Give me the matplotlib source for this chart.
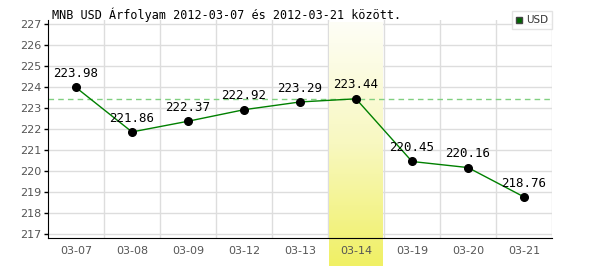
import numpy as np
import matplotlib.pyplot as plt
from matplotlib.colors import LinearSegmentedColormap

# data
dates = ['03-07', '03-08', '03-09', '03-12', '03-13', '03-14', '03-19', '03-20', '03-21']
rates = [223.98, 221.86, 222.37, 222.92, 223.29, 223.44, 220.45, 220.16, 218.76]
highlight = '03-14'

fig = plt.figure(figsize=(6, 2.7), dpi=100)
ax = fig.add_axes([48 / 600, 1 - 238 / 270, 504 / 600, 218 / 270])

x = np.arange(len(dates))

# grid
for v in range(217, 228):
    ax.axhline(v, color='#dddddd', lw=1, zorder=0)
for b in np.arange(0.5, len(dates), 1.0):
    ax.axvline(b, color='#dddddd', lw=1, zorder=0)

# highlighted day column with gradient
hi = dates.index(highlight)
cmap = LinearSegmentedColormap.from_list('hl', ['#fefef6', '#f8f8c0', '#f0f064'])
grad = np.linspace(0, 1, 256).reshape(-1, 1)
ax.imshow(grad, cmap=cmap, aspect='auto', extent=(hi - 0.48, hi + 0.48, 215.46, 227.1),
          origin='upper', zorder=1, clip_on=False)
ax.set_xlim(-0.5, len(dates) - 0.5)
ax.set_ylim(216.8, 227.2)

# reference line at highlighted value
ax.axhline(rates[hi], color='#80d080', lw=1, ls=(0, (4, 3)), zorder=2)

ax.plot(x, rates, color='#008000', lw=1, zorder=3)
ax.plot(x, rates, 'o', color='black', ms=5.5, zorder=4)
for xi, r in zip(x, rates):
    ax.text(xi, r + 0.35, f'{r:.2f}', ha='center', va='bottom', fontsize=9,
            family='DejaVu Sans Mono', color='black', zorder=5)

ax.set_xticks(x)
ax.set_xticklabels(dates)
ax.set_yticks(range(217, 228))
ax.tick_params(axis='x', length=0, pad=6, labelsize=8, labelcolor='#555555')
ax.tick_params(axis='y', length=3, width=1, pad=2, labelsize=8, labelcolor='#555555')

for s in ['top', 'right']:
    ax.spines[s].set_visible(False)
ax.spines['left'].set_color('black')
ax.spines['bottom'].set_color('black')
ax.set_facecolor('white')

fig.text(52 / 600, 1 - 15 / 270, 'MNB USD Árfolyam 2012-03-07 és 2012-03-21 között.',
         fontsize=8.5, family='DejaVu Sans Mono', va='center', ha='left')

# legend box
ax.plot([], [], 's', color='#006600', mec='#444444', ms=5, label='USD')
lg = ax.legend(loc='upper right', bbox_to_anchor=(1.0, 1 + 9 / 218), fontsize=7.5,
               frameon=True, fancybox=False, handlelength=0.6, handletextpad=0.3,
               borderpad=0.4, borderaxespad=0, labelcolor='#333333')
lg.get_frame().set_edgecolor('#dddddd')
lg.get_frame().set_linewidth(1)

fig.savefig('out.png', dpi=100)
